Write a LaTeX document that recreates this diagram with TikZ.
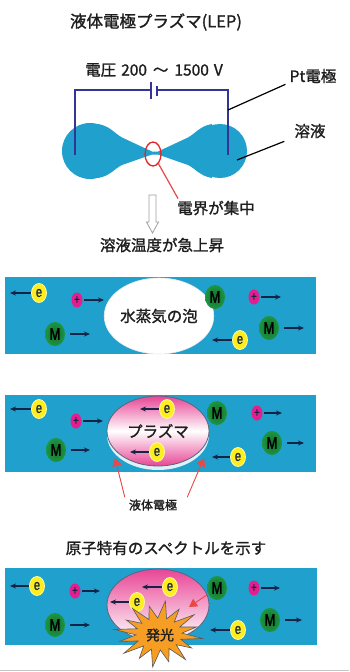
\documentclass[tikz,border=0pt]{standalone}
\usepackage{fontspec}
\setmainfont{Noto Sans CJK JP}[FakeBold=1.3]
\newfontfamily\tagfont{Liberation Sans}[FakeStretch=0.75, FakeBold=1.5]
\usetikzlibrary{arrows.meta,shapes.geometric,calc}

\definecolor{sol}{RGB}{32,160,204}
\definecolor{wire}{RGB}{52,52,150}
\definecolor{navy}{RGB}{20,35,70}
\definecolor{egold}{RGB}{255,238,30}
\definecolor{mdark}{RGB}{16,110,45}
\definecolor{mlight}{RGB}{30,150,65}
\definecolor{ionpink}{RGB}{228,30,140}
\definecolor{plasma}{RGB}{232,70,150}
\definecolor{burst}{RGB}{245,158,35}
\definecolor{hot}{RGB}{228,40,40}
\definecolor{ink}{RGB}{30,30,30}

\tikzset{
  txt/.style={inner sep=0pt, text=ink},
  big/.style={txt, font=\fontsize{16.5}{18}\selectfont},
  mid/.style={txt, font=\fontsize{15.5}{17}\selectfont},
  small/.style={txt, font=\fontsize{12}{13}\selectfont},
  elec/.style={ellipse, fill=egold, draw=yellow!35!white, line width=0.8pt,
    minimum width=15pt, minimum height=19pt, inner sep=0pt,
    font=\tagfont\fontsize{15}{15}\selectfont, text=navy},
  ion/.style={ellipse, fill=ionpink, minimum width=11pt, minimum height=15pt,
    inner sep=0pt, font=\tagfont\fontsize{13}{13}\selectfont, text=navy},
  mol/.style={ellipse, inner color=mdark, outer color=mlight,
    minimum width=20pt, minimum height=24pt, inner sep=0pt,
    font=\tagfont\fontsize{17}{17}\selectfont, text=black},
  elec gap/.style={shorten <=0.5pt},
  ion gap/.style={shorten <=1.5pt},
  mol gap/.style={shorten <=5pt},
  move/.style={navy, line width=1.1pt, -{Stealth[length=6pt,width=5pt]}},
  bath/.style={fill=sol},
  wireline/.style={wire, line width=1.3pt},
  hotline/.style={hot!85!white, line width=0.9pt},
  hotarrow/.style={hotline, -{Triangle[length=8pt,width=9pt]}},
  leader/.style={black, line width=1.2pt},
}

\begin{document}
\begin{tikzpicture}[x=1pt,y=-1pt]
\useasboundingbox (0,0) rectangle (349,672);
\fill[white] (0,0) rectangle (349,672);

% ---------- cell with two Pt electrodes ----------
\node[big] (title) at (156,22) {液体電極プラズマ(LEP)};
\node[mid] (volt) at (154,70) {電圧\hspace{5pt}200\hspace{6pt}～\hspace{6pt}1500\hspace{5pt}V};
\node[mid] (ptlbl) at (313,76) {Pt電極};
\node[mid] (sollbl) at (310,131) {溶液};

% solution droplets joined by a narrow neck
\fill[sol] (90,151) circle (28);
\fill[sol] (220,151) circle (27);
\fill[sol] (98,124) .. controls (110,126) and (114,133) .. (122,137.5)
  -- (152,151.5) -- (158,151.5) -- (188,137.5)
  .. controls (196,133) and (200,126) .. (212,124)
  -- (212,178) .. controls (200,176) and (196,169) .. (188,165)
  -- (158,154.5) -- (152,154.5) -- (122,165)
  .. controls (114,169) and (110,176) .. (98,178) -- cycle;

% circuit with battery
\coordinate (wl) at (75,155);
\coordinate (wr) at (228,155);
\coordinate (bl) at (151,90);
\coordinate (br) at (157,90);
\draw[wireline] (wl) |- (bl);
\draw[wireline] (br) -| (wr);
\draw[wireline] ($(bl)+(0,-8)$) -- ($(bl)+(0,9)$);
\draw[wireline] ($(br)+(0,-4)$) -- ($(br)+(0,6)$);

% labels with leader lines
\coordinate (ptwire) at (228,110);
\coordinate (solin) at (237,160);
\draw[leader] (ptwire) -- ([shift={(-4pt,-1pt)}]ptlbl.south west);
\draw[leader] (solin) -- ([shift={(-10pt,-3pt)}]sollbl.south west);

% field concentration at the neck
\node[ellipse, draw=hot, line width=1.3pt, minimum width=16pt,
      minimum height=24pt, inner sep=0pt] (focus) at (153,154) {};
\node[mid] (field) at (216,208) {電界が集中};
\draw[hotline, line width=1.2pt] (focus) -- ([shift={(1pt,2pt)}]field.north west);

% hollow down arrow
\coordinate (harr) at (152.5,195);
\draw[gray!75, line width=0.8pt, fill=white]
  ($(harr)+(-3.5,0)$) -- ($(harr)+(3.5,0)$) -- ($(harr)+(3.5,27)$)
  -- ($(harr)+(6,27)$) -- ($(harr)+(0,38)$) -- ($(harr)+(-6,27)$)
  -- ($(harr)+(-3.5,27)$) -- cycle;
\node[mid] (heat) at (162,245) {溶液温度が急上昇};

% ---------- vapour bubble ----------
\fill[bath] (5,277) rectangle (316,354);
\node[ellipse, fill=white, draw=white!85!gray, line width=0.6pt,
      minimum width=98pt, minimum height=76pt, inner sep=0pt,
      mid] (bub) at (159,316) {水蒸気の泡};
\foreach \kind/\nm/\x/\y/\tx/\lab in {elec/b1/39/293/10/e, ion/b2/77/300/104/+,
    mol/b3/55/334/90/M, ion/b5/254/297/281/+, mol/b6/269/328/304/M,
    elec/b7/240/340/212/e} {
  \node[\kind] (\nm) at (\x,\y) {\lab};
  \coordinate (\nm t) at (\tx,\y);
  \draw[move, \kind\space gap] (\nm) -- (\nm t);
}
\node[mol] (b4) at (215,297) {M};

% ---------- plasma in the bubble ----------
\fill[bath] (5,395) rectangle (316,472);
\fill[white!85!sol] (158,435) ellipse [x radius=51, y radius=35];
\node[ellipse, draw=navy!70, line width=0.8pt, top color=plasma,
      bottom color=plasma, middle color=white, minimum width=102pt,
      minimum height=70pt, inner sep=0pt, mid] (pl) at (158,431) {プラズマ};
\foreach \kind/\nm/\x/\y/\tx/\lab in {elec/c1/39/409/10/e, ion/c2/76/421/103/+,
    mol/c3/56/450/90/M, ion/c5/257/413/282/+, mol/c6/272/443/304/M,
    elec/c7/238/457/212/e, elec/c8/167/409/140/e, elec/c9/157/452/130/e} {
  \node[\kind] (\nm) at (\x,\y) {\lab};
  \coordinate (\nm t) at (\tx,\y);
  \draw[move, \kind\space gap] (\nm) -- (\nm t);
}
\node[mol] (c4) at (217,413) {M};

% liquid electrodes
\node[small] (liq) at (153,505) {液体電極};
\coordinate (tl) at (115,458);
\coordinate (tr) at (204,458);
\draw[hotarrow] ([shift={(-4pt,2pt)}]liq.north west) -- (tl);
\draw[hotarrow] ([shift={(10pt,2pt)}]liq.north east) -- (tr);

% ---------- emission ----------
\node[mid] (spec) at (166,548) {原子特有のスペクトルを示す};
\fill[bath] (5,568) rectangle (317,645);
\node[ellipse, draw=navy!70, line width=0.8pt, top color=plasma,
      bottom color=white, minimum width=102pt, minimum height=72pt,
      inner sep=0pt] (pl2) at (158,605) {};
\foreach \kind/\nm/\x/\y/\tx/\lab in {elec/d1/37/586/10/e, ion/d2/75/591/100/+,
    mol/d3/55/625/90/M, ion/d5/254/588/280/+, mol/d6/270/620/302/M,
    elec/d7/238/630/210/e, elec/d8/170/587/142/e, elec/d9/137/602/110/e} {
  \node[\kind] (\nm) at (\x,\y) {\lab};
  \coordinate (\nm t) at (\tx,\y);
  \draw[move, \kind\space gap] (\nm) -- (\nm t);
}
\node[mol] (d4) at (217,588) {M};
\coordinate (excite) at (189,607);
\draw[hotarrow] (d4) -- (excite);

% light burst: 16 spikes of uneven length
\coordinate (bc) at (159,634);
\fill[burst, draw=black!65, line width=0.6pt, line join=miter]
  ($(bc)+(8:44 and 32)$)
  \foreach \i/\f in {1/0.86,2/1.0,3/0.9,4/1.04,5/0.88,6/1.0,7/0.92,
                     8/1.02,9/0.86,10/1.0,11/0.9,12/1.04,13/0.9,14/1.0,15/0.88} {
    -- ($(bc)+({\i*22.5-3.25}:23 and 16)$)
    -- ($(bc)+({\i*22.5+8}:{44*\f} and {32*\f})$)
  }
  -- ($(bc)+(-3.25:23 and 16)$) -- cycle;
\node[txt, font=\fontsize{14}{15}\selectfont] (glow) at ($(bc)+(1,1)$) {発光};

\draw[gray!45, line width=1.2pt] (0,670.5) -- (349,670.5);
\end{tikzpicture}
\end{document}
